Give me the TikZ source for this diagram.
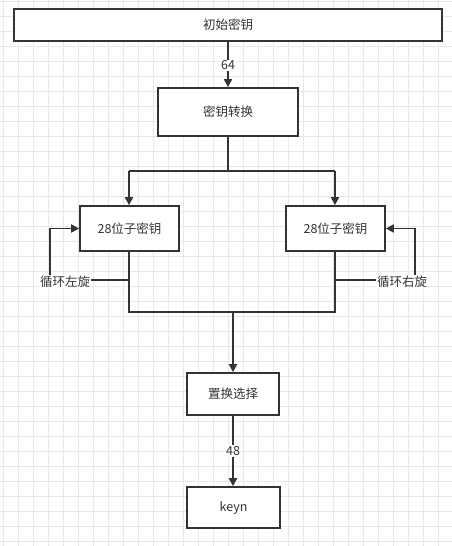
\documentclass[tikz,border=0pt]{standalone}
\usepackage{fontspec}
\setmainfont{Noto Sans CJK SC}
\usetikzlibrary{arrows.meta}
\definecolor{ln}{HTML}{333333}
\definecolor{gridc}{HTML}{E8E8E8}
\tikzset{
  box/.style={draw=ln, line width=1.7pt, fill=white, text=ln, font=\fontsize{12.5}{14}\selectfont, inner sep=0pt},
  conn/.style={draw=ln, line width=1.9pt, -{Triangle[length=8pt,width=8pt]}},
  plain/.style={draw=ln, line width=1.7pt},
  lbl/.style={fill=white, text=ln, font=\fontsize{12.5}{14}\selectfont, inner sep=1pt}
}
\begin{document}
\begin{tikzpicture}[x=1pt,y=-1pt]
\useasboundingbox (0,0) rectangle (452,546);
\fill[white] (0,0) rectangle (452,546);
\foreach \i in {0,...,30} {\draw[gridc, line width=0.8pt] (3.5+15*\i,0) -- (3.5+15*\i,546);}
\foreach \j in {0,...,36} {\draw[gridc, line width=0.8pt] (0,1+15*\j) -- (452,1+15*\j);}
% nodes
\node[box, minimum width=428pt, minimum height=32pt] (init) at (228,25) {初始密钥};
\node[box, minimum width=140pt, minimum height=48pt] (trans) at (228,112) {密钥转换};
\node[box, minimum width=99pt, minimum height=45pt] (lk) at (129.5,228.5) {28位子密钥};
\node[box, minimum width=99pt, minimum height=45pt] (rk) at (335.5,228.5) {28位子密钥};
\node[box, minimum width=92pt, minimum height=42pt] (pc) at (233,394) {置换选择};
\node[box, minimum width=93pt, minimum height=41pt] (keyn) at (233.5,507.5) {keyn};
\coordinate (split) at (228,171);
\coordinate (lsplit) at (129,171);
\coordinate (rsplit) at (335,171);
\coordinate (ljoin) at (129,312);
\coordinate (rjoin) at (335,312);
\coordinate (mjoin) at (233,312);
\coordinate (ltap) at (129,280);
\coordinate (rtap) at (335,280);
\coordinate (lcorner) at (50,280);
\coordinate (rcorner) at (415,280);
% connectors
\draw[conn] (init.south -| trans.north) -- node[lbl, pos=0.52] {64} (trans.north);
\draw[plain] (trans.south) -- (trans.south |- split);
\draw[plain] (lsplit) -- (rsplit);
\draw[conn] (lsplit) -- (lk.north -| lsplit);
\draw[conn] (rsplit) -- (rk.north -| rsplit);
\draw[plain] (lk.south -| ltap) -- (ljoin) -- (rjoin) -- (rk.south -| rtap);
\draw[conn] (mjoin) -- (pc.north -| mjoin);
\draw[conn] (ltap) -- (lcorner) -- (lcorner |- lk.west) -- (lk.west);
\draw[conn] (rtap) -- (rcorner) -- (rcorner |- rk.east) -- (rk.east);
\node[lbl] (ll) at (65,282) {循环左旋};
\node[lbl] (rl) at (402,282) {循环右旋};
\draw[conn] (pc.south -| mjoin) -- node[lbl, pos=0.5] {48} (keyn.north -| mjoin);
\end{tikzpicture}
\end{document}
